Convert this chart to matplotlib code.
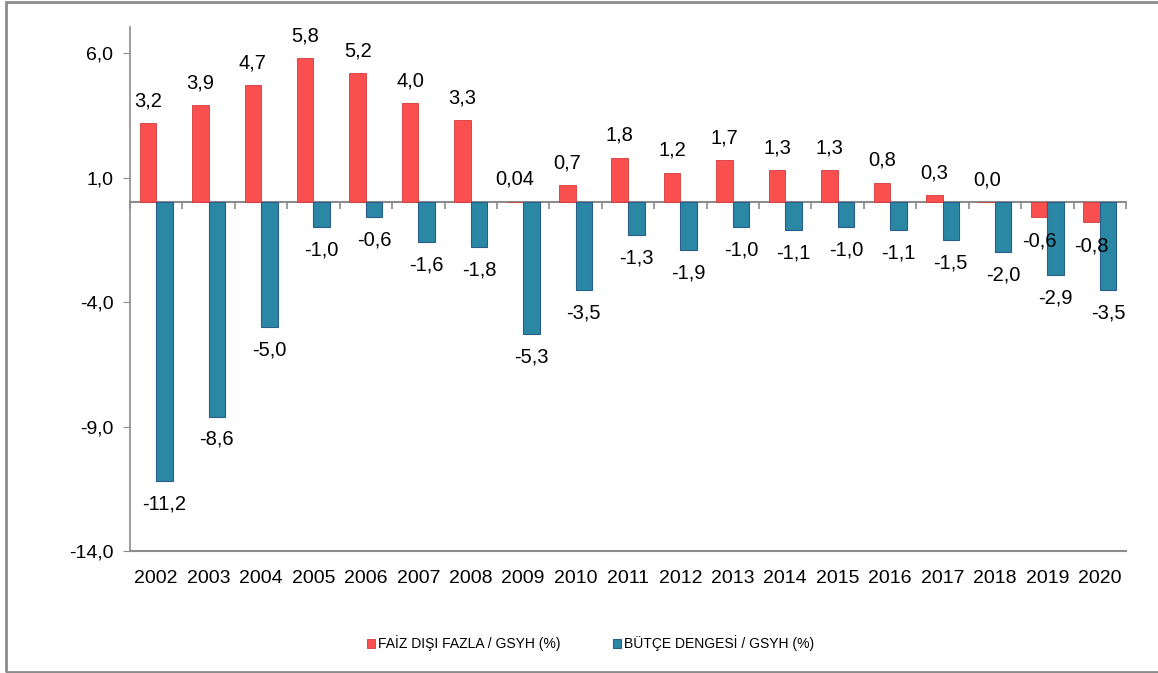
import numpy as np
import matplotlib.pyplot as plt
import matplotlib.patches as mpatches
from matplotlib.ticker import FuncFormatter

plt.rcParams['font.family'] = ['Liberation Sans', 'DejaVu Sans']

# veriler
years = ['2002', '2003', '2004', '2005', '2006', '2007', '2008', '2009', '2010', '2011',
         '2012', '2013', '2014', '2015', '2016', '2017', '2018', '2019', '2020']
faiz_disi = [3.2, 3.9, 4.7, 5.8, 5.2, 4.0, 3.3, 0.04, 0.7, 1.8,
             1.2, 1.7, 1.3, 1.3, 0.8, 0.3, 0.0, -0.6, -0.8]
faiz_disi_lbl = ['3,2', '3,9', '4,7', '5,8', '5,2', '4,0', '3,3', '0,04', '0,7', '1,8',
                 '1,2', '1,7', '1,3', '1,3', '0,8', '0,3', '0,0', '-0,6', '-0,8']
butce = [-11.2, -8.6, -5.0, -1.0, -0.6, -1.6, -1.8, -5.3, -3.5, -1.3,
         -1.9, -1.0, -1.1, -1.0, -1.1, -1.5, -2.0, -2.9, -3.5]
yticks = [6.0, 1.0, -4.0, -9.0, -14.0]

red = '#F94F4F'
blue = '#2A88A5'
gray = '#8C8C8C'

fig = plt.figure(figsize=(11.58, 6.73), dpi=100)
ax = fig.add_axes([130/1158, 1 - 551/673, (1126-130)/1158, (551-27)/673])

x = np.arange(len(years))
w = 0.315
b1 = ax.bar(x - w/2, faiz_disi, w, color=red, edgecolor='#D43B3B', lw=0.6,
            label='FAİZ DIŞI FAZLA / GSYH (%)', zorder=3)
b2 = ax.bar(x + w/2, butce, w, color=blue, edgecolor='#2A5C8C', lw=0.8,
            label='BÜTÇE DENGESİ / GSYH (%)', zorder=3)

# etiketler
for xi, v, t in zip(x, faiz_disi, faiz_disi_lbl):
    off = 16 if v >= 0 else -17
    ax.annotate(t, (xi - w/2, v), xytext=(0, off), textcoords='offset points',
                ha='center', va='center', fontsize=14.5)
for xi, v in zip(x, butce):
    ax.annotate(('%.1f' % v).replace('.', ','), (xi + w/2, v), xytext=(0, -16.5),
                textcoords='offset points', ha='center', va='center', fontsize=14.5)

ax.set_xlim(-0.5, len(years) - 0.5)
ax.set_ylim(-14.0, 7.05)
ax.set_yticks(yticks)
ax.yaxis.set_major_formatter(FuncFormatter(lambda v, p: ('%.1f' % v).replace('.', ',')))
ax.tick_params(axis='y', direction='out', length=5, color=gray, labelsize=14, pad=7)

ax.spines['bottom'].set_position(('data', 0))
ax.spines['bottom'].set_color(gray)
ax.spines['bottom'].set_linewidth(1.5)
ax.spines['left'].set_color(gray)
ax.spines['left'].set_linewidth(1.2)
ax.spines['top'].set_visible(False)
ax.spines['right'].set_visible(False)
ax.set_xticks(np.arange(-0.5, len(years), 1.0))
ax.tick_params(axis='x', direction='out', length=5, color=gray, width=1.2, labelbottom=False)

sec = ax.secondary_xaxis(0.0)
sec.set_xticks(x)
sec.set_xticklabels(years)
sec.tick_params(length=0, labelsize=14, pad=14)
sec.spines['bottom'].set_color(gray)
sec.spines['bottom'].set_linewidth(1.5)

fig.legend(handles=[b1, b2], loc='center', bbox_to_anchor=(0.51, 1 - 643/673), ncol=2,
           frameon=False, fontsize=10, handlelength=0.6, handleheight=0.6,
           handletextpad=0.2, columnspacing=3.8)

fig.patches.append(mpatches.Rectangle((6/1158, 1/673), 1.2, 670/673, transform=fig.transFigure,
                                      fill=False, edgecolor=gray, lw=2))

fig.savefig('out.png', dpi=100)
